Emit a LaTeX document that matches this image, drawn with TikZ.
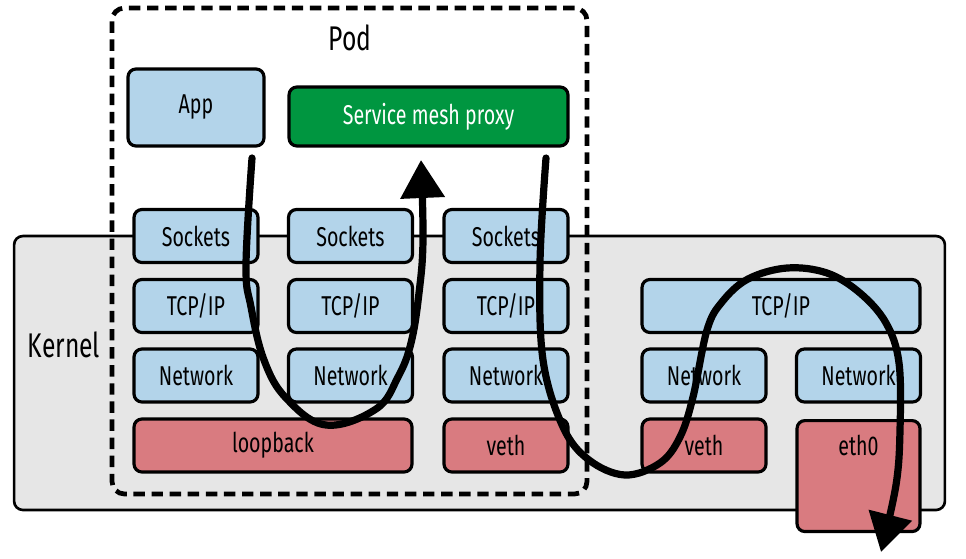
\documentclass[tikz,border=0pt]{standalone}
\usepackage{fontspec}
\setmainfont{Fira Sans}[FakeStretch=0.72]
\usepackage{tikz}
\usetikzlibrary{arrows.meta,positioning}
\definecolor{layerblue}{RGB}{179,212,234}
\definecolor{devred}{RGB}{217,123,128}
\definecolor{meshgreen}{RGB}{0,150,64}
\definecolor{kernelgray}{RGB}{230,230,230}
\tikzset{
  layer/.style={draw, line width=1.8pt, rounded corners=4.5pt, fill=layerblue,
    inner sep=0pt, minimum width=2.48cm, minimum height=1.06cm,
    font=\fontsize{15.5}{18}\selectfont},
  device/.style={layer, fill=devred},
  flow/.style={line width=4.1pt, line cap=round,
    -{Triangle[length=0.76cm,width=0.86cm]}},
  biglabel/.style={font=\fontsize{19.5}{22}\selectfont},
}
\begin{document}
\begin{tikzpicture}[x=0.02cm,y=-0.02cm]
\useasboundingbox (0,0) rectangle (966,558);

% kernel and pod frames
\node[draw, line width=1.5pt, rounded corners=5pt, fill=kernelgray,
  minimum width=18.62cm, minimum height=5.48cm] (kernel) at (479.5,373) {};
\node[biglabel] (kernellabel) at (64,345) {Kernel};
\node[draw, line width=2.7pt, rounded corners=7pt,
  dash pattern=on 6.5pt off 3.8pt,
  minimum width=9.5cm, minimum height=9.72cm] (pod) at (349.5,251) {};
\node[biglabel] (podlabel) at (350,38) {Pod};

% user space
\node[layer, minimum width=2.72cm, minimum height=1.54cm] (app) at (196,107.5) {App};
\node[layer, fill=meshgreen, text=white, minimum width=5.58cm,
  minimum height=1.18cm] (proxy) at (428.5,116.5) {Service mesh proxy};

% stacks inside the pod
\node[layer] (sockA) at (196,236) {Sockets};
\node[layer] (sockB) at (350.5,236) {Sockets};
\node[layer] (sockC) at (506,236) {Sockets};
\node[layer] (tcpA) at (196,306) {TCP/IP};
\node[layer] (tcpB) at (350.5,306) {TCP/IP};
\node[layer] (tcpC) at (506,306) {TCP/IP};
\node[layer] (netA) at (196,375.5) {Network};
\node[layer] (netB) at (350.5,375.5) {Network};
\node[layer] (netC) at (506,375.5) {Network};
\node[device, minimum width=5.56cm] (lo) at (273,445.5) {loopback};
\node[device] (vethpod) at (506,445.5) {veth};

% host side
\node[layer, minimum width=5.56cm] (tcphost) at (781,306) {TCP/IP};
\node[layer] (nethostA) at (704,375.5) {Network};
\node[layer] (nethostB) at (858.5,375.5) {Network};
\node[device] (vethhost) at (704,445.5) {veth};
\node[device, minimum width=2.46cm, minimum height=2.22cm, anchor=north] (eth) at (858.5,419) {};
\node[below=0.2cm, font=\fontsize{15.5}{18}\selectfont] (ethlabel) at (eth.north) {eth0};

% packet paths
\draw[flow] plot[smooth, tension=0.65] coordinates {(252,158) (246,265) (251,307)
  (264,360) (286,398) (326,425) (376,409) (398,377) (411,343) (419,293)
  (423,240) (421,160)};
\draw[flow] plot[smooth, tension=0.6] coordinates {(546,158) (540,263) (543,360)
  (563,427) (589,460) (625,475) (660,463) (680,437) (693,397) (707,330)
  (722,302) (748,279) (787,268) (827,273) (860,293) (886,323) (899,363)
  (900,430) (896,485) (881,552)};
\end{tikzpicture}
\end{document}
